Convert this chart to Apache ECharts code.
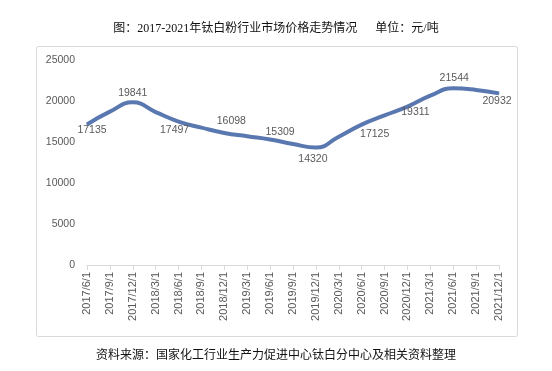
<!DOCTYPE html>
<html>
<head>
<meta charset="utf-8">
<script src="https://cdn.jsdelivr.net/npm/echarts@6/dist/echarts.min.js"></script>
<style>
html,body{margin:0;padding:0;background:#fff;}
#c{width:552px;height:371px;}
</style>
</head>
<body>
<div id="c"></div>
<script>
// ---- data ----
const categories = ['2017/6/1','2017/9/1','2017/12/1','2018/3/1','2018/6/1','2018/9/1','2018/12/1','2019/3/1','2019/6/1','2019/9/1','2019/12/1','2020/3/1','2020/6/1','2020/9/1','2020/12/1','2021/3/1','2021/6/1','2021/9/1','2021/12/1'];
const prices = [17135, 18700, 19841, 18650, 17497, 16750, 16098, 15700, 15309, 14750, 14320, 15650, 17125, 18250, 19311, 20650, 21544, 21350, 20932];
const yTicks = [0, 5000, 10000, 15000, 20000, 25000];
const titleText = '图：2017-2021年钛白粉行业市场价格走势情况      单位：元/吨';
const sourceText = '资料来源：国家化工行业生产力促进中心钛白分中心及相关资料整理';

// ---- label placement (style) ----
const labelOffsets = {0:[5,6],2:[0,-9],4:[-4,9],6:[7,-12],8:[10,-7],10:[-3,12],12:[13,10],14:[8,5],16:[1,-10],18:[-2,8]};

const chart = echarts.init(document.getElementById('c'), null, {renderer:'canvas'});
const seriesData = prices.map((v, i) => {
  const off = labelOffsets[i];
  return {
    value: v,
    label: off ? {show: true, position: 'inside', offset: off} : {show: false}
  };
});

chart.setOption({
  backgroundColor: '#ffffff',
  animation: false,
  title: {
    text: titleText,
    left: 'center',
    top: 18,
    textStyle: {fontFamily: '"Liberation Serif","Noto Sans CJK SC"', fontSize: 12, fontWeight: 'normal', color: '#111'}
  },
  graphic: [
    {type: 'rect', left: 34, top: 44, shape: {width: 481, height: 290, r: 2}, style: {fill: 'none', stroke: '#d9d9d9', lineWidth: 1}, silent: true},
    {type: 'text', left: 'center', top: 350, style: {text: sourceText, font: '12px "Liberation Serif","Noto Sans CJK SC"', fill: '#111'}}
  ],
  grid: {left: 87, right: 53, top: 60, bottom: 106},
  xAxis: {
    type: 'category',
    data: categories,
    boundaryGap: false,
    axisLine: {lineStyle: {color: '#d9d9d9', width: 1}},
    axisTick: {show: true, length: 5, lineStyle: {color: '#d9d9d9'}, alignWithLabel: true},
    axisLabel: {rotate: 90, interval: 0, color: '#595959', fontSize: 11, fontFamily: 'Liberation Sans', margin: 7}
  },
  yAxis: {
    type: 'value',
    min: yTicks[0],
    max: yTicks[yTicks.length - 1],
    interval: yTicks[1] - yTicks[0],
    axisLine: {show: false},
    axisTick: {show: false},
    splitLine: {show: false},
    axisLabel: {color: '#595959', fontSize: 10.5, fontFamily: 'Liberation Sans', margin: 12, formatter: v => String(v)}
  },
  series: [{
    type: 'line',
    data: seriesData,
    smooth: 0.5,
    symbol: 'circle',
    symbolSize: 1,
    itemStyle: {color: '#5a78b0'},
    lineStyle: {color: '#5a78b0', width: 4},
    label: {color: '#595959', fontSize: 10.5, fontFamily: 'Liberation Sans'}
  }]
});
</script>
</body>
</html>
